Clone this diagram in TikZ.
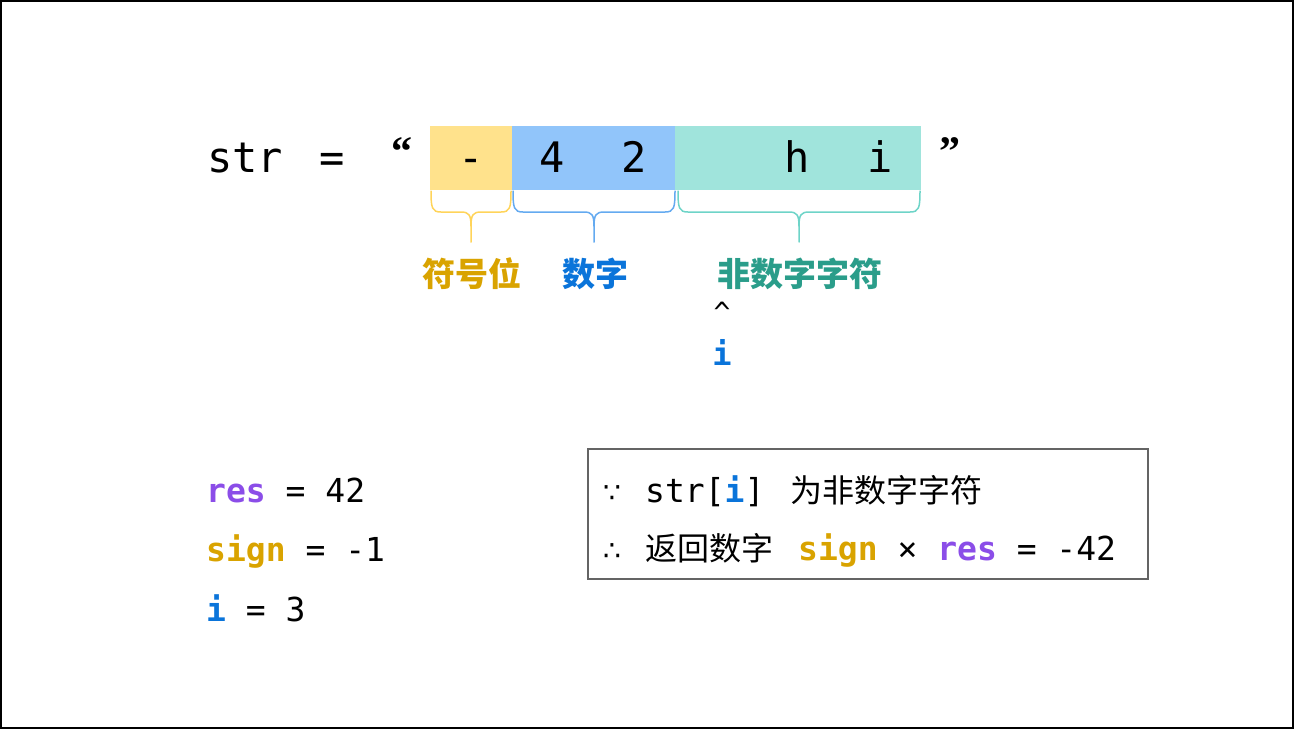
\documentclass[tikz,border=0pt]{standalone}
\usepackage{fontspec}
\newfontfamily\mono{DejaVu Sans Mono}
\newfontfamily\cjk{Noto Sans CJK SC}
\newfontfamily\sym{DejaVu Sans}
\newfontfamily\quotefont{Liberation Serif}
\definecolor{ybox}{RGB}{255,226,140}
\definecolor{bbox}{RGB}{145,197,250}
\definecolor{tbox}{RGB}{160,228,220}
\definecolor{ybr}{RGB}{255,212,90}
\definecolor{bbr}{RGB}{100,170,240}
\definecolor{tbr}{RGB}{110,212,200}
\definecolor{gold}{RGB}{217,163,0}
\definecolor{iblue}{RGB}{10,116,218}
\definecolor{tealtxt}{RGB}{42,157,138}
\definecolor{purp}{RGB}{139,77,232}
\definecolor{framegray}{RGB}{100,100,100}
\newcommand\mybrace[3]{%
  \pgfmathsetmacro\mm{(#1+#2)/2}%
  \draw[#3, line width=1.5pt, line cap=round]
    (#1,191) .. controls (#1,208) and (#1+1,212) .. (#1+10,212) -- (\mm-10,212)
    .. controls (\mm-2,212) and (\mm,215) .. (\mm,226) -- (\mm,242);
  \draw[#3, line width=1.5pt, line cap=round]
    (#2,191) .. controls (#2,208) and (#2-1,212) .. (#2-10,212) -- (\mm+10,212)
    .. controls (\mm+2,212) and (\mm,215) .. (\mm,226);
}
\tikzset{
  cell/.style={inner sep=0pt, outer sep=0pt, minimum height=64pt},
  big/.style={font=\mono\fontsize{42}{50}\selectfont, inner sep=0pt, anchor=base},
  lbl/.style={font=\cjk\bfseries\fontsize{33}{40}\selectfont, inner sep=0pt},
  code/.style={font=\mono\fontsize{33}{38}\selectfont, inner sep=0pt, anchor=base west},
  boxtxt/.style={font=\cjk\fontsize{32}{38}\selectfont, inner sep=0pt, anchor=base west},
  quot/.style={font=\quotefont\bfseries\fontsize{42}{48}\selectfont, inner sep=0pt},
}
\begin{document}
\begin{tikzpicture}[x=1pt,y=-1pt]
\useasboundingbox (0,0) rectangle (1294,729);
\draw[line width=2pt] (1,1) rectangle (1293,728);
% cells
\node[cell, fill=ybox, minimum width=82pt] (csign) at (471,158) {};
\node[cell, fill=bbox, minimum width=163pt] (cdig) at (593.5,158) {};
\node[cell, fill=tbox, minimum width=246pt] (crest) at (798,158) {};
% top text
\node[big, anchor=base west] (str) at (207,172) {str};
\node[big] (eq) at (332,172) {=};
\node[quot] (lq) at (402,152) {“};
\node[quot] (rq) at (950,152) {”};
\node[big] (ch0) at (471,172) {-};
\node[big] (ch1) at (552,172) {4};
\node[big] (ch2) at (634,172) {2};
\node[big] (ch4) at (797,172) {h};
\node[big] (ch5) at (880,172) {i};
% braces
\mybrace{431}{511}{ybr}
\mybrace{513}{675}{bbr}
\mybrace{678}{920}{tbr}
% labels
\node[lbl, text=gold] (l1) at (472,274) {符号位};
\node[lbl, text=iblue] (l2) at (595,274) {数字};
\node[lbl, text=tealtxt] (l3) at (800,274) {非数字字符};
\node[font=\mono\fontsize{28}{32}\selectfont, inner sep=0pt] (caret) at (722,312) {\textasciicircum};
\node[font=\mono\bfseries\fontsize{32}{38}\selectfont, text=iblue, inner sep=0pt, anchor=base] (iptr) at (722,365) {i};
% variables
\node[code] (vres) at (206,502) {\textcolor{purp}{\bfseries res} = 42};
\node[code] (vsign) at (206,561) {\textcolor{gold}{\bfseries sign} = -1};
\node[code] (vi) at (206,621) {\textcolor{iblue}{\bfseries i} = 3};
% explanation box
\node[draw=framegray, line width=1.5pt, minimum width=560pt, minimum height=130pt, inner sep=0pt] (expl) at (868,514) {};
\node[font=\sym\fontsize{28}{30}\selectfont, inner sep=0pt, anchor=base west] (because) at (603,502) {∵};
\node[code] (l1a) at (645,502) {str[\textcolor{iblue}{\bfseries i}]};
\node[boxtxt] (l1b) at (790,502) {为非数字字符};
\node[font=\sym\fontsize{28}{30}\selectfont, inner sep=0pt, anchor=base west] (therefore) at (603,560) {∴};
\node[boxtxt] (l2a) at (645,560) {返回数字};
\node[code] (l2b) at (798,560) {\textcolor{gold}{\bfseries sign} × \textcolor{purp}{\bfseries res} = -42};
\end{tikzpicture}
\end{document}
